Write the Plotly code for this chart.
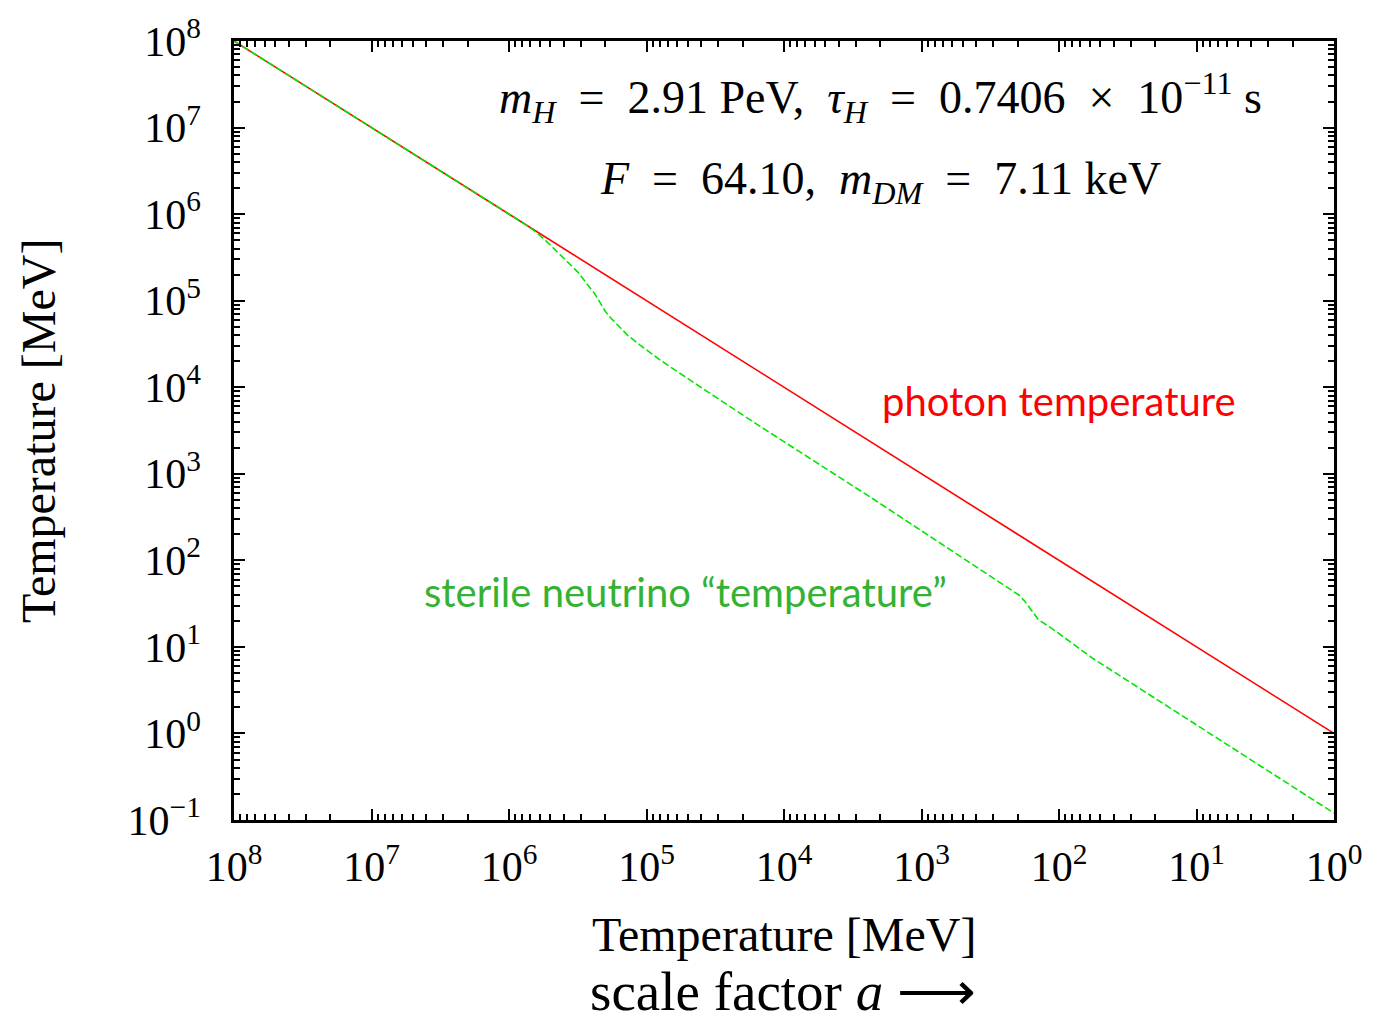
import plotly.graph_objects as go

# Photon temperature falls as 1/a, so it is the diagonal T_gamma = T
photon_T = [1e8, 1e0]
photon_Tgamma = [1e8, 1e0]

# Sterile neutrino "temperature" vs photon temperature [MeV]
nu_T = [1e8, 1e7, 1e6, 7.08e5, 5.62e5, 4.17e5, 3.16e5, 2.37e5, 2.00e5, 1.82e5,
        1.61e5, 1.37e5, 1.12e5, 7.89e4, 3.61e4, 1.57e4, 2.20e3, 4.02e2, 2.24e2,
        1.96e2, 1.78e2, 1.66e2, 1.51e2, 1.41e2, 1.20e2, 1.01e2, 5.71e1, 1.0]
nu_Ts = [1e8, 1e7, 9.95e5, 7.08e5, 5.25e5, 3.31e5, 2.14e5, 1.19e5, 7.59e4, 6.31e4,
         5.13e4, 3.98e4, 3.09e4, 2.04e4, 8.91e3, 3.72e3, 5.01e2, 8.51e1, 4.57e1,
         3.98e1, 3.39e1, 2.90e1, 2.40e1, 2.06e1, 1.74e1, 1.44e1, 7.41, 1.20e-1]

x_tickvals = [1e8, 1e7, 1e6, 1e5, 1e4, 1e3, 1e2, 1e1, 1e0]
x_ticktext = ["10<sup>8</sup>", "10<sup>7</sup>", "10<sup>6</sup>", "10<sup>5</sup>",
              "10<sup>4</sup>", "10<sup>3</sup>", "10<sup>2</sup>", "10<sup>1</sup>",
              "10<sup>0</sup>"]
y_tickvals = [1e8, 1e7, 1e6, 1e5, 1e4, 1e3, 1e2, 1e1, 1e0, 1e-1]
y_ticktext = ["10<sup>8</sup>", "10<sup>7</sup>", "10<sup>6</sup>", "10<sup>5</sup>",
              "10<sup>4</sup>", "10<sup>3</sup>", "10<sup>2</sup>", "10<sup>1</sup>",
              "10<sup>0</sup>", "10<sup>−1</sup>"]

SERIF = "Liberation Serif"
SANS = "Lato"
EQ = "\u00a0\u00a0=\u00a0\u00a0"
TIMES = "\u00a0\u00a0×\u00a0\u00a0"

fig = go.Figure()
fig.add_trace(go.Scatter(x=photon_T, y=photon_Tgamma, mode="lines",
                         line=dict(color="#ff0000", width=1.6), showlegend=False))
fig.add_trace(go.Scatter(x=nu_T, y=nu_Ts, mode="lines",
                         line=dict(color="#00e600", width=1.6, dash="7px,3px"),
                         showlegend=False))

axis_common = dict(
    type="log", showgrid=False, zeroline=False,
    showline=True, linecolor="black", linewidth=2.5, mirror="allticks",
    ticks="inside", ticklen=11, tickwidth=2, tickcolor="black",
    tickmode="array",
    tickfont=dict(family=SERIF, size=42, color="black"),
    minor=dict(ticks="inside", ticklen=6, tickwidth=1.5, tickcolor="black",
               dtick="D1", showgrid=False),
)

fig.update_xaxes(range=[8, 0], tickvals=x_tickvals, ticktext=x_ticktext,
                 ticklabelstandoff=8, **axis_common)
fig.update_yaxes(range=[-1, 8], tickvals=y_tickvals, ticktext=y_ticktext,
                 ticklabelstandoff=22, **axis_common)

annotations = [
    dict(text="<i>m</i><sub><i>H</i></sub>" + EQ + "2.91 PeV,\u00a0 <i>τ</i><sub><i>H</i></sub>"
         + EQ + "0.7406" + TIMES + "10<sup>−11</sup> s",
         x=884, y=92, font=dict(family=SERIF, size=46, color="black")),
    dict(text="<i>F</i>" + EQ + "64.10,\u00a0 <i>m</i><sub><i>DM</i></sub>" + EQ + "7.11 keV",
         x=884, y=177, font=dict(family=SERIF, size=46, color="black")),
    dict(text="photon temperature", x=1064, y=398,
         font=dict(family=SANS, size=40, color="#ff0000")),
    dict(text="sterile neutrino “temperature”", x=688, y=590,
         font=dict(family=SANS, size=40, color="#33b233")),
    dict(text="Temperature [MeV]", x=787, y=935,
         font=dict(family=SERIF, size=48, color="black")),
    dict(text="scale factor <i>a</i> ⟶", x=786, y=993,
         font=dict(family=SERIF, size=55, color="black")),
    dict(text="Temperature [MeV]", x=38, y=428, textangle=-90,
         font=dict(family=SERIF, size=48, color="black")),
]

W, H = 1374, 1016
ML, MR, MT, MB = 234, 34, 35, 196
px0, px1 = ML, W - MR
py0, py1 = MT, H - MB

# place annotations by pixel position, expressed in paper units of the plot area
ann_objs = []
for a in annotations:
    a = dict(a)
    xp, yp = a.pop("x"), a.pop("y")
    ann_objs.append(dict(xref="paper", yref="paper", showarrow=False,
                         xanchor="center", yanchor="middle",
                         x=(xp - px0) / (px1 - px0),
                         y=(py1 - yp) / (py1 - py0), **a))

fig.update_layout(
    width=W, height=H,
    margin=dict(l=ML, r=MR, t=MT, b=MB),
    paper_bgcolor="white", plot_bgcolor="white",
    annotations=ann_objs,
)

fig.write_html("out.html")
